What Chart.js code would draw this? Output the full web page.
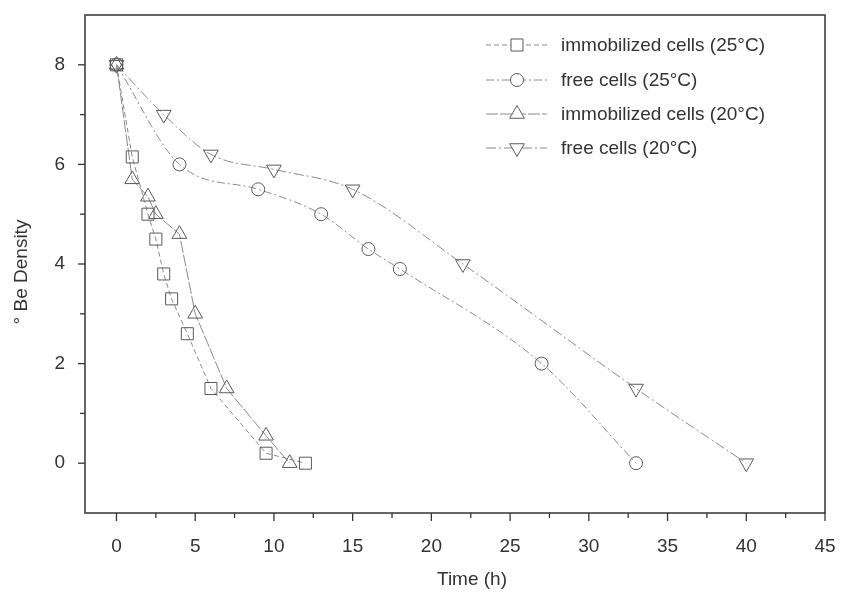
<!DOCTYPE html>
<html>
<head>
<meta charset="utf-8">
<script src="https://cdn.jsdelivr.net/npm/chart.js@4.4.1/dist/chart.umd.min.js"></script>
<style>
  html, body { margin: 0; padding: 0; background: #fff; }
  #wrap { width: 845px; height: 594px; }
</style>
</head>
<body>
<div id="wrap"><canvas id="c" width="845" height="594"></canvas></div>
<script>
// ---- data ----
const seriesNames = ['immobilized cells (25\u00B0C)', 'free cells (25\u00B0C)', 'immobilized cells (20\u00B0C)', 'free cells (20\u00B0C)'];
const immo25X = [0, 1, 2, 2.5, 3, 3.5, 4.5, 6, 9.5, 12];
const immo25Y = [8, 6.15, 5.0, 4.5, 3.8, 3.3, 2.6, 1.5, 0.2, 0];
const free25X = [0, 4, 9, 13, 16, 18, 27, 33];
const free25Y = [8, 6.0, 5.5, 5.0, 4.3, 3.9, 2.0, 0];
const immo20X = [0, 1, 2, 2.5, 4, 5, 7, 9.5, 11];
const immo20Y = [8, 5.7, 5.35, 5.0, 4.6, 3.0, 1.5, 0.55, 0];
const free20X = [0, 3, 6, 10, 15, 22, 33, 40];
const free20Y = [8, 7.0, 6.2, 5.9, 5.5, 4.0, 1.5, 0];
const xTicks = [0, 5, 10, 15, 20, 25, 30, 35, 40, 45];
const yTicks = [0, 2, 4, 6, 8];
const xTitle = 'Time (h)';
const yTitle = '\u00B0 Be Density';

const FONT = "'Liberation Sans', Arial, sans-serif";
const pts = (xs, ys) => xs.map((x, i) => ({ x: x, y: ys[i] }));

const styles = [
  { shape: 'rect', radius: 8.5, rot: 0, dash: [5, 3], smooth: false },
  { shape: 'circle', radius: 6.5, rot: 0, dash: [8, 3, 2, 3], smooth: true },
  { shape: 'triangle', radius: 8.5, rot: 0, dash: [12, 2], smooth: false },
  { shape: 'triangle', radius: 8.5, rot: 180, dash: [10, 3, 2, 3], smooth: true }
];
const dataArr = [pts(immo25X, immo25Y), pts(free25X, free25Y), pts(immo20X, immo20Y), pts(free20X, free20Y)];

const datasets = dataArr.map((d, i) => ({
  label: seriesNames[i],
  data: d,
  showLine: true,
  borderColor: '#8a8a8a',
  borderWidth: 1,
  borderDash: styles[i].dash,
  cubicInterpolationMode: styles[i].smooth ? 'monotone' : 'default',
  tension: 0,
  pointStyle: styles[i].shape,
  pointRotation: styles[i].rot,
  pointRadius: styles[i].radius,
  pointBorderColor: '#5a5a5a',
  pointBorderWidth: 1,
  pointBackgroundColor: 'rgba(255,255,255,0)'
}));

function drawMarker(ctx, shape, r, rot, x, y) {
  ctx.save();
  ctx.translate(x, y);
  ctx.rotate(rot * Math.PI / 180);
  ctx.beginPath();
  if (shape === 'circle') {
    ctx.arc(0, 0, r, 0, Math.PI * 2);
  } else if (shape === 'rect') {
    const s = r / Math.SQRT2;
    ctx.rect(-s, -s, 2 * s, 2 * s);
  } else {
    ctx.moveTo(0, -r);
    ctx.lineTo(r * Math.cos(Math.PI / 6), r * 0.5);
    ctx.lineTo(-r * Math.cos(Math.PI / 6), r * 0.5);
    ctx.closePath();
  }
  ctx.fillStyle = '#fff';
  ctx.fill();
  ctx.strokeStyle = '#5a5a5a';
  ctx.lineWidth = 1;
  ctx.stroke();
  ctx.restore();
}

const framePlugin = {
  id: 'frame',
  afterDraw(chart) {
    const ctx = chart.ctx;
    const a = chart.chartArea;
    const xs = chart.scales.x, ys = chart.scales.y;
    ctx.save();
    ctx.strokeStyle = '#333';
    ctx.lineWidth = 1.5;
    ctx.setLineDash([]);
    ctx.strokeRect(a.left, a.top, a.right - a.left, a.bottom - a.top);
    ctx.lineWidth = 1.3;
    for (let v = 0; v <= 45; v += 2.5) {
      const px = xs.getPixelForValue(v);
      const len = (v % 5 === 0) ? 8 : 5;
      ctx.beginPath(); ctx.moveTo(px, a.bottom); ctx.lineTo(px, a.bottom + len); ctx.stroke();
    }
    for (let v = -1; v <= 9; v += 1) {
      const py = ys.getPixelForValue(v);
      if (py < a.top + 1 || py > a.bottom - 1) continue;
      const len = (v % 2 === 0) ? 7 : 5;
      ctx.beginPath(); ctx.moveTo(a.left, py); ctx.lineTo(a.left - len, py); ctx.stroke();
    }
    ctx.fillStyle = '#333';
    ctx.font = '19px ' + FONT;
    ctx.textAlign = 'center';
    ctx.textBaseline = 'middle';
    ctx.fillText(xTitle, 472, 580);
    ctx.save();
    ctx.translate(22, 272);
    ctx.rotate(-Math.PI / 2);
    ctx.fillText(yTitle, 0, 0);
    ctx.restore();
    const rows = [45, 80, 114, 148];
    ctx.textAlign = 'left';
    rows.forEach((ry, i) => {
      ctx.strokeStyle = '#8a8a8a';
      ctx.lineWidth = 1;
      ctx.setLineDash(styles[i].dash);
      ctx.beginPath(); ctx.moveTo(486, ry); ctx.lineTo(547, ry); ctx.stroke();
      ctx.setLineDash([]);
      drawMarker(ctx, styles[i].shape, styles[i].radius, styles[i].rot, 517, ry);
      ctx.fillStyle = '#333';
      ctx.fillText(seriesNames[i], 561, ry + 1);
    });
    ctx.restore();
  }
};

new Chart(document.getElementById('c'), {
  type: 'scatter',
  data: { datasets: datasets },
  options: {
    responsive: false,
    animation: false,
    layout: { padding: { top: 15, right: 20, left: 0, bottom: 0 } },
    plugins: { legend: { display: false }, tooltip: { enabled: false } },
    scales: {
      x: {
        type: 'linear', min: -2, max: 45,
        afterBuildTicks: s => { s.ticks = xTicks.map(v => ({ value: v })); },
        afterFit: s => { s.height = 81; s.paddingLeft = 0; s.paddingRight = 0; },
        grid: { display: false },
        border: { display: false },
        ticks: { color: '#333', font: { family: FONT, size: 19 }, padding: 14, maxRotation: 0, autoSkip: false }
      },
      y: {
        type: 'linear', min: -1, max: 9,
        afterBuildTicks: s => { s.ticks = yTicks.map(v => ({ value: v })); },
        afterFit: s => { s.width = 85; s.paddingTop = 0; s.paddingBottom = 0; },
        grid: { display: false },
        border: { display: false },
        ticks: { color: '#333', font: { family: FONT, size: 19 }, padding: 12, autoSkip: false }
      }
    }
  },
  plugins: [framePlugin]
});
</script>
</body>
</html>
